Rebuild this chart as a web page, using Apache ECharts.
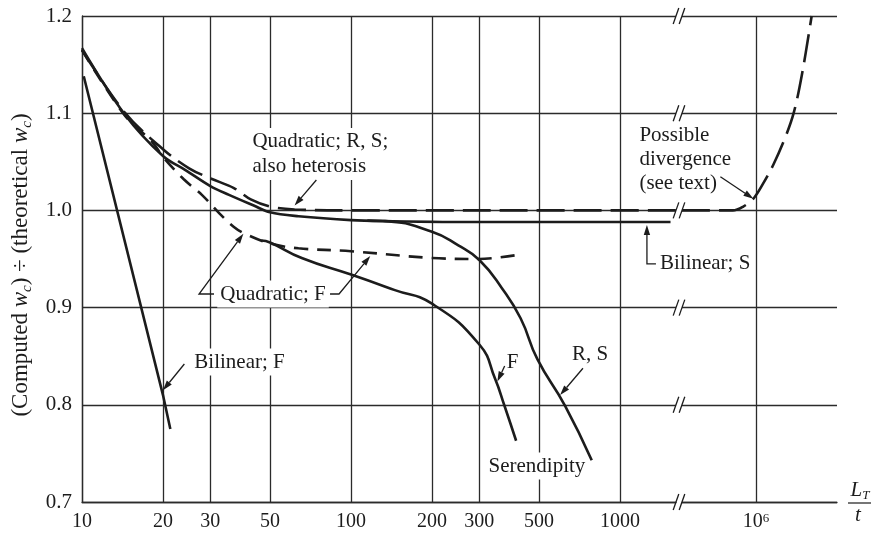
<!DOCTYPE html>
<html>
<head>
<meta charset="utf-8">
<script src="https://cdn.jsdelivr.net/npm/echarts@6/dist/echarts.min.js"></script>
<style>
  html, body { margin: 0; padding: 0; background: #fff; }
  #chart { width: 871px; height: 535px; }
</style>
</head>
<body>
<div id="chart"></div>
<script>
// ---- data: L_T/t on x, (computed w_c)/(theoretical w_c) on y ----
const xTicksNear = [10, 20, 30, 50, 100, 200, 300, 500, 1000];
const xTicksFar = [1e6];
const yTicks = [0.7, 0.8, 0.9, 1.0, 1.1, 1.2];

const bilinearF = [[10.15, 1.138], [20, 0.81], [21.3, 0.775]];

const quadraticF = [
  [10, 1.165], [14.4, 1.098], [18.3, 1.07], [20, 1.055], [23.9, 1.032],
  [27.9, 1.016], [32.4, 0.997], [36.7, 0.983], [40.3, 0.976], [50, 0.966],
  [63.8, 0.961], [100, 0.958], [200, 0.951], [300, 0.95], [411, 0.954]
];

const quadraticRS = [
  [10, 1.165], [14.4, 1.101], [20, 1.063], [25.1, 1.043], [30, 1.033],
  [36.7, 1.023], [42.6, 1.011], [50, 1.004], [61.7, 1.001], [100, 1.0],
  [1000, 1.0], [1615, 1.0],
  [5.31e5, 1.0], [8.2e5, 1.0], [8.97e5, 1.004], [9.78e5, 1.012],
  [1.065e6, 1.028], [1.16e6, 1.047], [1.28e6, 1.074], [1.38e6, 1.1],
  [1.48e6, 1.139], [1.61e6, 1.2]
];

const bilinearS = [
  [10, 1.167], [14.4, 1.099], [20, 1.056], [24.4, 1.041], [30, 1.025],
  [35.2, 1.016], [43.5, 1.005], [50, 0.998], [63.8, 0.994], [100, 0.99],
  [134, 0.989], [300, 0.988], [1000, 0.988], [1541, 0.988]
];

const serendipityF = [
  [46.4, 0.969], [50, 0.967], [65.6, 0.951], [100, 0.934], [145.6, 0.918],
  [200, 0.904], [300, 0.862], [343, 0.827], [372, 0.799], [411, 0.763]
];

const serendipityRS = [
  [115, 0.9895], [134, 0.989], [200, 0.978], [250.6, 0.964], [300, 0.949],
  [364, 0.92], [427, 0.889], [493, 0.847], [625, 0.799], [785, 0.743]
];

// ---- axis extents on each side of the break ----
const nearMax = 1615;
const farMin = 5.31e5;
const farMax = 2.0e6;

// ---- styling ----
const INK = '#1c1c1c';
const GRID_INK = '#2b2b2b';
const FONT = '"Liberation Serif", "Times New Roman", serif';
const LONG_DASH = [28, 9];
const SHORT_DASH = [14, 9];

// ---- annotations: text, anchor (data), leader offsets (px) ending on a curve ----
const notesNear = [
  { text: 'Quadratic; R, S;\nalso heterosis', at: [41.9, 1.058], align: 'left',
    leaders: [{ path: [[67, 26]], tip: [61.7, 1.005] }] },
  { text: 'Quadratic; F', at: [51.3, 0.914], align: 'center',
    leaders: [{ path: [[-59, 0], [-74, 0]], tip: [39.8, 0.976] },
              { path: [[57, 0], [66, 0]], tip: [117.9, 0.953] }] },
  { text: 'Bilinear; F', at: [25.5, 0.844], align: 'left',
    leaders: [{ path: [[-7, 2]], tip: [20, 0.815] }] },
  { text: 'F', at: [399, 0.844], align: 'center',
    leaders: [{ path: [[-8, 4]], tip: [350, 0.824] }] },
  { text: 'R, S', at: [646, 0.852], align: 'left',
    leaders: [{ path: [[14, 14]], tip: [599, 0.81] }] },
  { text: 'Serendipity', at: [491, 0.737], align: 'center' },
  { text: 'Bilinear; S', at: [1372, 0.945], align: 'left',
    leaders: [{ path: [[-1, 0], [-10, 0]], tip: [1259, 0.985] }] }
];
const notesFar = [
  { text: 'Possible\ndivergence\n(see text)', at: [9.78e5, 1.012], offset: [-117, -39],
    align: 'left', lineHeight: 24, leaders: [{ path: [[-33, -22]] }] }
];

function noteRenderer(list) {
  return function (params, api) {
    const n = list[params.dataIndex];
    const p = api.coord(n.at);
    const off = n.offset || [0, 0];
    const children = [{
      type: 'text',
      style: {
        text: n.text, x: p[0] + off[0], y: p[1] + off[1],
        align: n.align, verticalAlign: 'middle',
        font: '21px ' + FONT, fill: INK, lineHeight: n.lineHeight || 25,
        backgroundColor: '#fff', padding: [1, 3]
      }
    }];
    (n.leaders || []).forEach(function (l) {
      const pts = l.path.map(function (o) { return [p[0] + o[0], p[1] + o[1]]; });
      const tip = l.tip ? api.coord(l.tip) : [p[0], p[1]];
      const prev = pts[pts.length - 1];
      const ang = Math.atan2(tip[1] - prev[1], tip[0] - prev[0]);
      const L = 10, W = 3.2;
      const bx = tip[0] - L * Math.cos(ang), by = tip[1] - L * Math.sin(ang);
      children.push({
        type: 'polyline',
        shape: { points: pts.concat([[bx, by]]) },
        style: { stroke: INK, lineWidth: 1.3, fill: null }
      });
      children.push({
        type: 'polygon',
        shape: { points: [tip,
          [bx - W * Math.sin(ang), by + W * Math.cos(ang)],
          [bx + W * Math.sin(ang), by - W * Math.cos(ang)]] },
        style: { fill: INK }
      });
    });
    return { type: 'group', children: children };
  };
}

// "//" marks where each horizontal rule crosses the axis break
function breakRenderer(params, api) {
  const p = api.coord([api.value(0), api.value(1)]);
  const strokes = [p[0], p[0] + 6].map(function (c) {
    return {
      type: 'line',
      shape: { x1: c - 2.8, y1: p[1] + 8, x2: c + 2.8, y2: p[1] - 8 },
      style: { stroke: INK, lineWidth: 1.3 }
    };
  });
  return { type: 'group', children: strokes };
}

function curve(data, dash, g, smooth) {
  return {
    type: 'line', xAxisIndex: g, yAxisIndex: g, data: data,
    symbol: 'none', smooth: smooth, clip: false, silent: true, z: 3,
    lineStyle: { color: INK, width: 2.6, type: dash, cap: 'butt' }
  };
}

function xAxisFor(g, min, max, ticks) {
  return {
    type: 'log', logBase: 10, gridIndex: g, min: min, max: max,
    axisLine: { show: true, onZero: false, lineStyle: { color: GRID_INK, width: 1.3 } },
    axisTick: { show: false, customValues: ticks },
    splitLine: { show: true, lineStyle: { color: GRID_INK, width: 1.3 } },
    axisLabel: {
      customValues: ticks, margin: 10,
      fontFamily: FONT, fontSize: 20, color: INK,
      formatter: function (v) { return v >= 1e6 ? '{b|10}{p|6}' : String(Math.round(v)); },
      rich: {
        b: { fontFamily: FONT, fontSize: 20, color: INK, verticalAlign: 'bottom' },
        p: { fontFamily: FONT, fontSize: 13, color: INK, verticalAlign: 'top' }
      }
    }
  };
}

function yAxisFor(g, showLabels) {
  const ax = {
    type: 'value', gridIndex: g, min: 0.7, max: 1.2, interval: 0.1,
    axisLine: { show: showLabels, lineStyle: { color: GRID_INK, width: 1.3 } },
    axisTick: { show: false },
    splitLine: { show: true, lineStyle: { color: GRID_INK, width: 1.3 } },
    axisLabel: { show: showLabels, margin: 10, fontSize: 21, fontFamily: FONT, color: INK,
      formatter: function (v) { return v.toFixed(1); } }
  };
  if (showLabels) {
    const it = { fontFamily: FONT, fontSize: 23, color: INK, verticalAlign: 'top' };
    ax.name = '{n|(Computed }{i|w}{s|c}{n|) ÷ (theoretical }{i|w}{s|c}{n|)}';
    ax.nameLocation = 'middle';
    ax.nameRotate = 90;
    ax.nameGap = 42;
    ax.nameTextStyle = {
      fontFamily: FONT, fontSize: 23, color: INK, padding: [0, 12, 0, 0],
      rich: {
        n: it,
        i: Object.assign({}, it, { fontStyle: 'italic' }),
        s: Object.assign({}, it, { fontStyle: 'italic', fontSize: 15, padding: [10, 0, 0, 0] })
      }
    };
  }
  return ax;
}

const chart = echarts.init(document.getElementById('chart'), null, { renderer: 'canvas' });

chart.setOption({
  animation: false,
  backgroundColor: '#fff',
  grid: [
    { left: 82, top: 16, width: 594, height: 486 },
    { left: 682, top: 16, width: 155, height: 486 }
  ],
  xAxis: [
    xAxisFor(0, 10, nearMax, xTicksNear),
    xAxisFor(1, farMin, farMax, xTicksFar)
  ],
  yAxis: [yAxisFor(0, true), yAxisFor(1, false)],
  series: [
    curve(bilinearF, 'solid', 0, false),
    curve(quadraticF, SHORT_DASH, 0, 0.35),
    curve(quadraticRS.filter(function (d) { return d[0] <= nearMax; }), LONG_DASH, 0, 0.35),
    curve(quadraticRS.filter(function (d) { return d[0] >= farMin; }), LONG_DASH, 1, 0.35),
    curve(bilinearS, 'solid', 0, 0.35),
    curve(serendipityF, 'solid', 0, 0.5),
    curve(serendipityRS, 'solid', 0, 0.5),
    {
      type: 'custom', xAxisIndex: 0, yAxisIndex: 0, silent: true, z: 2, clip: false,
      data: yTicks.map(function (v) { return [nearMax, v]; }),
      renderItem: breakRenderer
    },
    {
      type: 'custom', xAxisIndex: 0, yAxisIndex: 0, silent: true, z: 2, clip: false,
      data: notesNear.map(function (n) { return n.at; }),
      renderItem: noteRenderer(notesNear)
    },
    {
      type: 'custom', xAxisIndex: 1, yAxisIndex: 1, silent: true, z: 2, clip: false,
      data: notesFar.map(function (n) { return n.at; }),
      renderItem: noteRenderer(notesFar)
    }
  ],
  graphic: [
    { type: 'text', x: 860, y: 491,
      style: { text: '{i|L}{s|T}', align: 'center', verticalAlign: 'middle',
        rich: { i: { fontFamily: FONT, fontStyle: 'italic', fontSize: 21, fill: INK, verticalAlign: 'top' },
                s: { fontFamily: FONT, fontStyle: 'italic', fontSize: 13, fill: INK, verticalAlign: 'top', padding: [10, 0, 0, 0] } } } },
    { type: 'line', shape: { x1: 848, y1: 503, x2: 871, y2: 503 }, style: { stroke: INK, lineWidth: 1.2 } },
    { type: 'text', x: 858, y: 515,
      style: { text: 't', align: 'center', verticalAlign: 'middle',
        font: 'italic 21px ' + FONT, fill: INK } }
  ]
});
</script>
</body>
</html>
